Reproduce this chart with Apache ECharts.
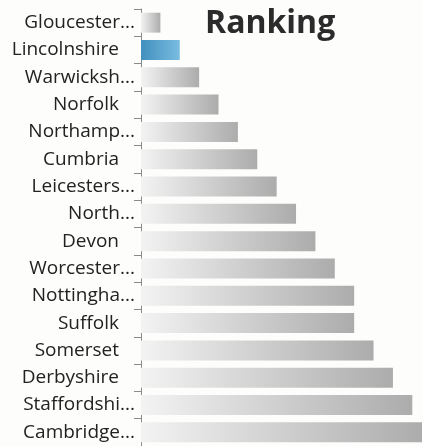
<!DOCTYPE html>
<html>
<head>
<meta charset="utf-8">
<script src="https://cdn.jsdelivr.net/npm/echarts@6/dist/echarts.min.js"></script>
<style>
html,body{margin:0;padding:0;background:#fdfdfc;}
#chart{width:422px;height:446px;}
</style>
</head>
<body>
<div id="chart"></div>
<script>
const categories = ["Gloucester...", "Lincolnshire", "Warwicksh...", "Norfolk", "Northamp...", "Cumbria", "Leicesters...", "North...", "Devon", "Worcester...", "Nottingha...", "Suffolk", "Somerset", "Derbyshire", "Staffordshi...", "Cambridge..."];
const values = [1, 2, 3, 4, 5, 6, 7, 8, 9, 10, 11, 11, 12, 13, 14, 15];
const highlighted = "Lincolnshire";
const titleText = "Ranking";

const chart = echarts.init(document.getElementById('chart'));
const grayGrad = new echarts.graphic.LinearGradient(0, 0, 1, 0, [
  {offset: 0, color: '#f3f3f3'},
  {offset: 1, color: '#acacac'}
]);
const blueGrad = new echarts.graphic.LinearGradient(0, 0, 1, 0, [
  {offset: 0, color: '#418fbe'},
  {offset: 1, color: '#79bde0'}
]);
chart.setOption({
  animation: false,
  backgroundColor: '#fdfdfc',
  title: {
    text: titleText,
    left: 200,
    top: 3,
    textStyle: {fontFamily: 'Open Sans', fontWeight: 'bold', fontSize: 32, color: '#2b2b2b'}
  },
  grid: {left: 141, right: 0, top: 9, bottom: 0, containLabel: false},
  xAxis: {type: 'value', min: 0, max: 14.5, show: false},
  yAxis: {
    type: 'category',
    data: categories,
    inverse: true,
    axisLine: {show: true, lineStyle: {color: '#8a8a8a', width: 1}},
    axisTick: {show: true, length: 7, lineStyle: {color: '#8a8a8a'}},
    axisLabel: {
      margin: 6,
      fontFamily: 'Open Sans',
      fontSize: 19,
      color: '#222',
      formatter: v => v.endsWith('...') ? v : v + '{s|}',
      rich: {s: {width: 16}}
    }
  },
  series: [{
    type: 'bar',
    barCategoryGap: '27%',
    clip: true,
    data: values.map((v, i) => ({
      value: v,
      itemStyle: {color: categories[i] === highlighted ? blueGrad : grayGrad}
    }))
  }]
});
</script>
</body>
</html>
